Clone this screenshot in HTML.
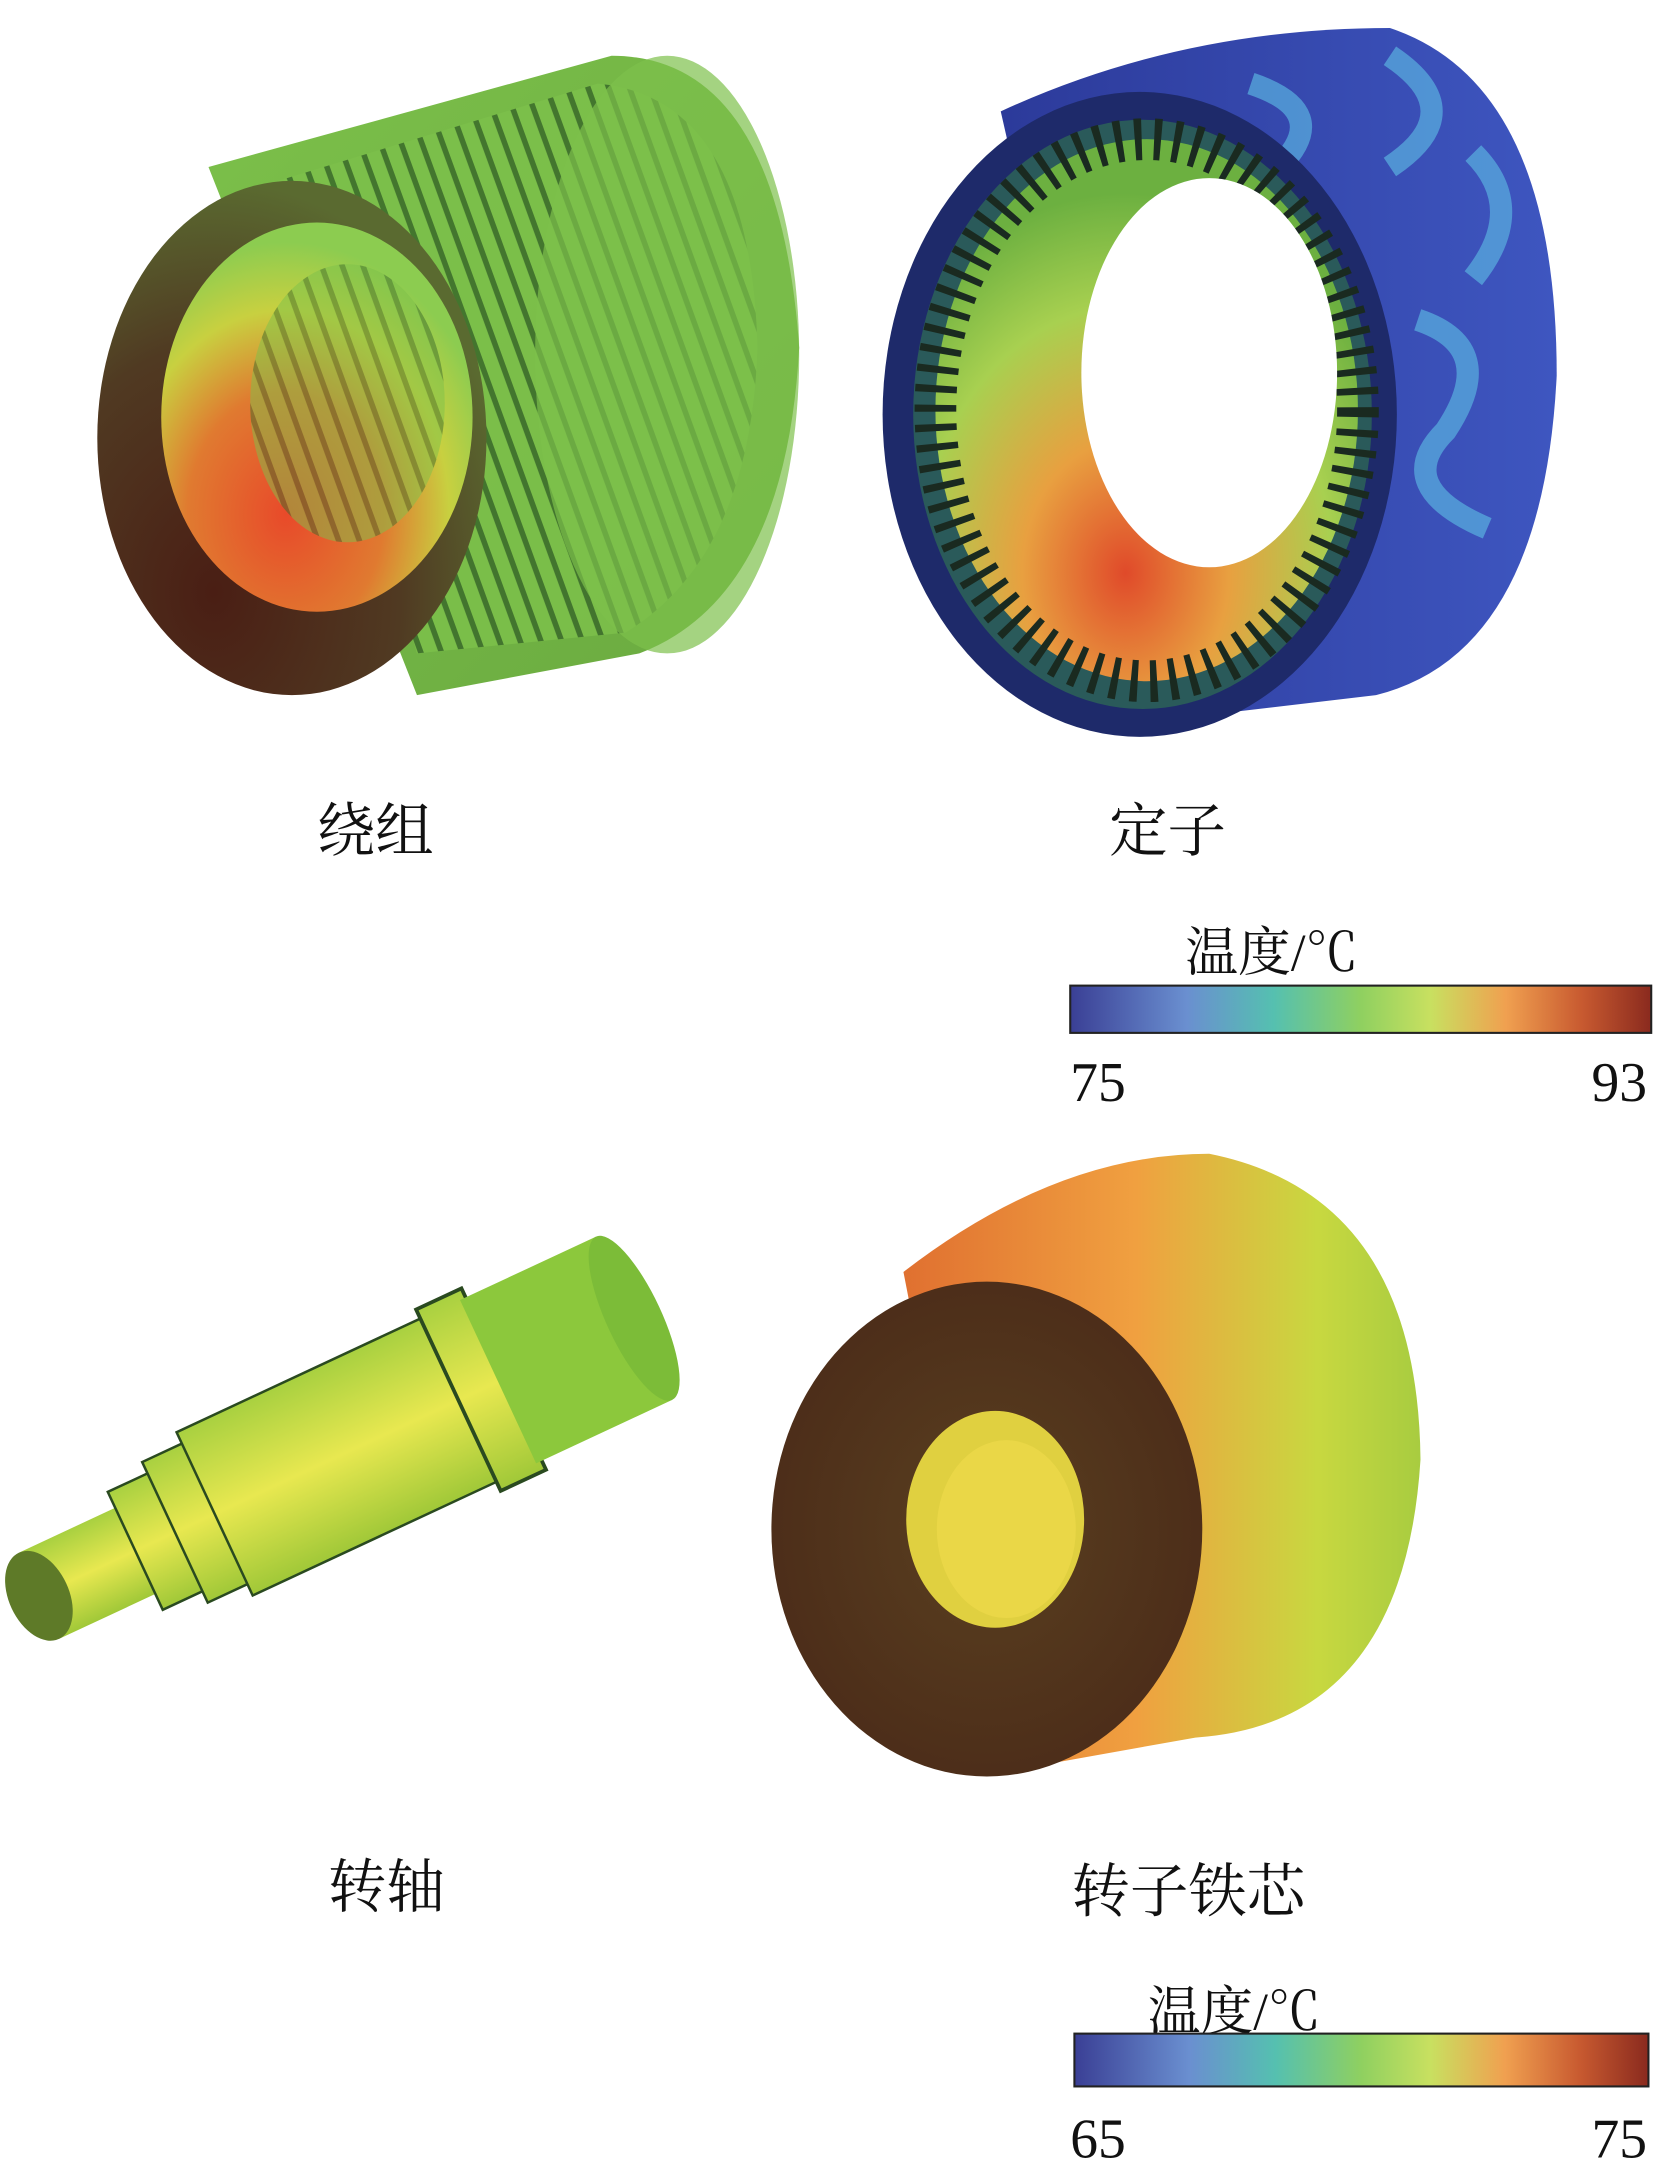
<!DOCTYPE html>
<html><head><meta charset="utf-8">
<style>
html,body{margin:0;padding:0;background:#fff;}
svg{display:block;}
text{font-family:"Liberation Serif","Noto Serif CJK SC","Noto Sans CJK SC",serif;fill:#111;}
</style></head>
<body>
<svg width="1654" height="2170" viewBox="0 0 1190 1561" xmlns="http://www.w3.org/2000/svg">
<defs>
<linearGradient id="cb" x1="0" x2="1" y1="0" y2="0">
<stop offset="0" stop-color="#3a3f95"/>
<stop offset="0.2" stop-color="#6a8fd0"/>
<stop offset="0.35" stop-color="#55c0b0"/>
<stop offset="0.5" stop-color="#8fd060"/>
<stop offset="0.62" stop-color="#c8e060"/>
<stop offset="0.75" stop-color="#f0a050"/>
<stop offset="0.88" stop-color="#c85a30"/>
<stop offset="1" stop-color="#8a2a1e"/>
</linearGradient>
<linearGradient id="wbody" x1="0" y1="0" x2="1" y2="1">
<stop offset="0" stop-color="#7cc04a"/><stop offset="1" stop-color="#6aaa40"/>
</linearGradient>
<radialGradient id="winner" cx="0.4" cy="0.75" r="0.7">
<stop offset="0" stop-color="#e84a2a"/><stop offset="0.45" stop-color="#e07a30"/><stop offset="0.75" stop-color="#c8d040"/><stop offset="1" stop-color="#8ccc50"/>
</radialGradient>
<radialGradient id="wface" cx="0.3" cy="0.8" r="0.8">
<stop offset="0" stop-color="#4a1e14"/><stop offset="0.6" stop-color="#503a22"/><stop offset="1" stop-color="#5a6a30"/>
</radialGradient>
<linearGradient id="sbody" x1="0" y1="0" x2="1" y2="0">
<stop offset="0" stop-color="#2c3a9a"/><stop offset="1" stop-color="#3e56c0"/>
</linearGradient>
<radialGradient id="sinner" cx="0.45" cy="0.8" r="0.7">
<stop offset="0" stop-color="#e04a2a"/><stop offset="0.35" stop-color="#e8a040"/><stop offset="0.7" stop-color="#a8d050"/><stop offset="1" stop-color="#6cb040"/>
</radialGradient>
<linearGradient id="shaft" x1="0" y1="0" x2="0" y2="1">
<stop offset="0" stop-color="#a8d040"/><stop offset="0.5" stop-color="#e8e850"/><stop offset="1" stop-color="#a0c838"/>
</linearGradient>
<linearGradient id="rbody" x1="0" y1="0" x2="1" y2="0">
<stop offset="0" stop-color="#e07030"/><stop offset="0.45" stop-color="#f0a040"/><stop offset="0.8" stop-color="#c8d840"/><stop offset="1" stop-color="#a8cc40"/>
</linearGradient>
<radialGradient id="rface" cx="0.5" cy="0.5" r="0.6">
<stop offset="0" stop-color="#5a4020"/><stop offset="1" stop-color="#4a2a18"/>
</radialGradient>
<pattern id="slots" width="14" height="400" patternUnits="userSpaceOnUse" patternTransform="rotate(-20)">
<rect width="14" height="400" fill="#7cc04a"/><rect x="10" width="4" height="400" fill="#3a6a2a"/>
</pattern>
</defs>

<!-- Winding -->
<path d="M150,120 L440,40 Q560,40 575,250 Q565,430 460,470 L300,500 Z" fill="url(#wbody)"/>
<path d="M200,130 L430,60 Q540,70 545,250 Q540,400 450,455 L300,470 Z" fill="url(#slots)" opacity="0.85"/>
<ellipse cx="480" cy="255" rx="95" ry="215" fill="#7ec04c" opacity="0.7"/>
<ellipse cx="210" cy="315" rx="140" ry="185" fill="url(#wface)"/>
<ellipse cx="228" cy="300" rx="112" ry="140" fill="url(#winner)"/>
<ellipse cx="250" cy="290" rx="70" ry="100" fill="url(#slots)" opacity="0.5"/>

<!-- Stator -->
<path d="M720,80 Q850,20 1000,20 Q1120,60 1120,270 Q1110,470 990,500 L820,520 Z" fill="url(#sbody)"/>
<path d="M900,60 q60,20 20,60 q-40,40 20,70 M1000,40 q60,40 0,80 M1020,230 q60,20 20,80 q-40,40 30,70 M1060,110 q40,40 0,90" stroke="#5ab0e0" stroke-width="16" fill="none" opacity="0.7"/>
<ellipse cx="820" cy="298" rx="185" ry="232" fill="#1e2a6a"/>
<ellipse cx="822" cy="298" rx="165" ry="212" fill="#2a5a5a"/>
<ellipse cx="825" cy="295" rx="152" ry="195" fill="url(#sinner)"/>
<ellipse cx="825" cy="295" rx="152" ry="195" fill="none" stroke="#1a2a20" stroke-width="30" stroke-dasharray="5 9"/>
<ellipse cx="870" cy="268" rx="92" ry="140" fill="#fff"/>

<!-- Shaft -->
<g transform="translate(28,1148) rotate(-25) scale(0.9)">
<rect x="0" y="-38" width="90" height="76" fill="url(#shaft)"/>
<rect x="85" y="-52" width="40" height="104" fill="url(#shaft)" stroke="#2a4a20" stroke-width="2"/>
<rect x="120" y="-62" width="40" height="124" fill="url(#shaft)" stroke="#2a4a20" stroke-width="2"/>
<rect x="155" y="-72" width="220" height="144" fill="url(#shaft)" stroke="#2a4a20" stroke-width="2"/>
<rect x="370" y="-80" width="40" height="160" fill="url(#shaft)" stroke="#2a4a20" stroke-width="3"/>
<rect x="405" y="-72" width="120" height="144" fill="#8cc83c"/>
<ellipse cx="525" cy="0" rx="22" ry="72" fill="#7cbc38"/>
<ellipse cx="0" cy="0" rx="24" ry="38" fill="#5e7a28"/>
</g>

<!-- Rotor core -->
<path d="M650,915 Q760,830 870,830 Q1020,860 1022,1050 Q1010,1240 860,1250 L720,1275 Z" fill="url(#rbody)"/>
<ellipse cx="710" cy="1100" rx="155" ry="178" fill="url(#rface)"/>
<ellipse cx="716" cy="1093" rx="64" ry="78" fill="#e0d040"/>
<ellipse cx="724" cy="1100" rx="50" ry="64" fill="#ecd848" opacity="0.8"/>

<!-- Labels -->
<text x="270" y="612" font-size="42" text-anchor="middle">绕组</text>
<text x="840" y="612" font-size="42" text-anchor="middle">定子</text>
<text x="915" y="698" font-size="38" text-anchor="middle">温度/℃</text>
<rect x="770" y="709" width="418" height="34" fill="url(#cb)" stroke="#222" stroke-width="1.5"/>
<text x="790" y="792" font-size="40" text-anchor="middle">75</text>
<text x="1165" y="792" font-size="40" text-anchor="middle">93</text>

<text x="278" y="1372" font-size="42" text-anchor="middle">转轴</text>
<text x="855" y="1375" font-size="42" text-anchor="middle">转子铁芯</text>
<text x="888" y="1460" font-size="38" text-anchor="middle">温度/℃</text>
<rect x="773" y="1463" width="413" height="38" fill="url(#cb)" stroke="#222" stroke-width="1.5"/>
<text x="790" y="1552" font-size="40" text-anchor="middle">65</text>
<text x="1165" y="1552" font-size="40" text-anchor="middle">75</text>
</svg>
</body></html>
